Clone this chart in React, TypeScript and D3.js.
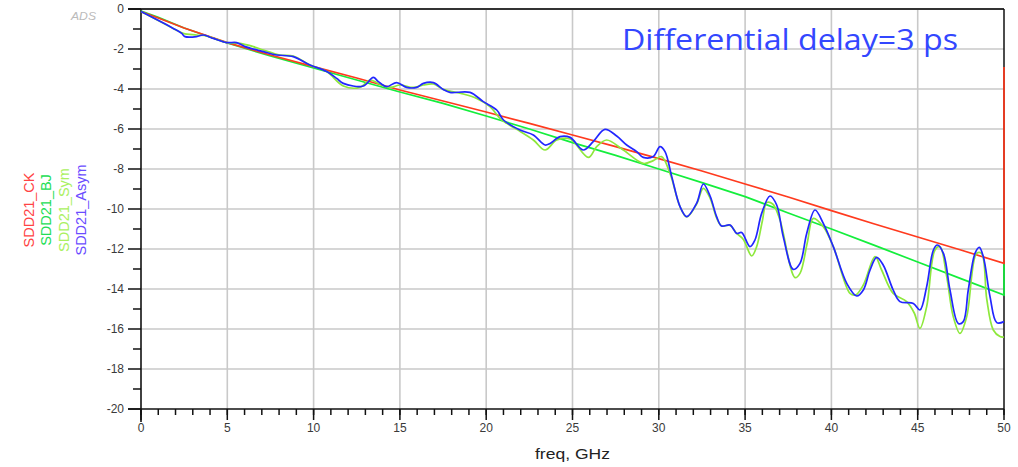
import React from "react";
import * as d3 from "d3";

const xTicksMajor = [0, 5, 10, 15, 20, 25, 30, 35, 40, 45, 50];
const yTicksMajor = [0, -2, -4, -6, -8, -10, -12, -14, -16, -18, -20];
const xTicksMinor = d3.range(0, 51, 1);
const yTicksMinor = d3.range(-1, -20, -2);

const seriesNames = ["SDD21_CK", "SDD21_BJ", "SDD21_Sym", "SDD21_Asym"];

const ckData: [number, number][] = [
  [0, -0.13], [1, -0.45], [2.5, -0.95], [5, -1.68], [7.5, -2.3], [10, -2.88],
  [12.5, -3.45], [15, -4.05], [17.5, -4.6], [20, -5.15], [22.5, -5.72], [25, -6.3],
  [27.5, -6.88], [30, -7.48], [32.5, -8.1], [35, -8.75], [37.5, -9.4], [40, -10.08],
  [42.5, -10.75], [45, -11.4], [47.5, -12.05], [50, -12.72], [50, -2.9],
];

const bjData: [number, number][] = [
  [0, -0.1], [1, -0.42], [2.5, -0.95], [5, -1.7], [7.5, -2.35], [10, -2.95],
  [12.5, -3.55], [15, -4.15], [17.5, -4.72], [20, -5.35], [22.5, -6.0], [25, -6.68],
  [27.5, -7.32], [30, -8.0], [32.5, -8.68], [35, -9.38], [37.5, -10.2], [40, -11.0],
  [42.5, -11.82], [45, -12.65], [47.5, -13.48], [50, -14.3], [50, -12.72],
];

const symData: [number, number][] = [
  [0, -0.13], [1.87, -0.97], [2.45, -1.22], [3.22, -1.3], [3.8, -1.35], [4.96, -1.68],
  [5.74, -1.72], [6.51, -1.88], [7.09, -2.05], [8.05, -2.3], [8.82, -2.35], [9.79, -2.8],
  [10.76, -3.13], [11.72, -3.85], [12.69, -3.92], [13.27, -3.55], [13.75, -3.72],
  [14.43, -3.92], [15.01, -3.8], [15.78, -3.92], [16.36, -3.8], [16.94, -3.75],
  [17.51, -4.02], [18.68, -4.25], [19.45, -4.47], [20.22, -4.88], [20.8, -5.47],
  [21.19, -5.72], [21.77, -6.02], [22.73, -6.55], [23.41, -7.05], [24.09, -6.55],
  [24.86, -6.5], [25.92, -7.42], [26.4, -6.88], [26.98, -6.55], [27.94, -7.05],
  [29.1, -7.72], [29.68, -7.58], [30.16, -7.38], [30.65, -8.22], [31.23, -9.88],
  [31.62, -10.4], [32.19, -9.75], [32.58, -8.97], [32.97, -9.45], [33.35, -10.45],
  [33.64, -10.85], [34.13, -10.82], [34.51, -11.22], [34.9, -11.52], [35.38, -12.35],
  [35.67, -11.88], [36.0, -10.6], [36.25, -9.68], [36.6, -9.75], [37.02, -10.55],
  [37.89, -13.43], [38.18, -13.22], [38.6, -11.7], [38.95, -10.47], [39.53, -10.88],
  [40.11, -11.88], [41.08, -14.22], [41.4, -14.3], [41.85, -13.8], [42.53, -12.38],
  [42.91, -13.05], [43.58, -14.22], [44.36, -14.63], [44.8, -15.2], [45.13, -15.97],
  [45.52, -14.88], [46.0, -12.05], [46.29, -11.88], [46.68, -13.38], [47.06, -15.38],
  [47.45, -16.22], [47.84, -15.38], [48.41, -12.22], [48.7, -12.22], [49.0, -14.5],
  [49.38, -16.05], [49.77, -16.38], [50, -16.4],
];

const asymData: [number, number][] = [
  [0, -0.13], [1.87, -0.97], [2.36, -1.22], [2.55, -1.38], [3.22, -1.38], [3.61, -1.3],
  [4.19, -1.47], [4.96, -1.68], [5.54, -1.68], [6.03, -1.88], [7.09, -2.13], [7.86, -2.3],
  [8.82, -2.38], [9.79, -2.8], [10.76, -3.13], [11.34, -3.47], [11.72, -3.72],
  [12.88, -3.85], [13.46, -3.42], [13.75, -3.63], [14.23, -3.88], [14.81, -3.68],
  [15.39, -3.92], [15.97, -3.92], [16.36, -3.72], [16.94, -3.68], [17.51, -4.02],
  [17.9, -4.17], [19.06, -4.17], [19.83, -4.63], [20.61, -5.05], [21.0, -5.55],
  [21.96, -6.05], [22.73, -6.3], [23.41, -6.8], [23.7, -6.72], [24.28, -6.38],
  [24.86, -6.42], [25.63, -7.05], [26.2, -6.63], [26.88, -6.02], [27.56, -6.35],
  [28.14, -6.8], [28.72, -7.13], [29.1, -7.42], [29.68, -7.38], [30.07, -6.88],
  [30.36, -7.13], [30.75, -8.38], [31.23, -9.88], [31.62, -10.38], [32.19, -9.72],
  [32.58, -8.75], [32.97, -9.35], [33.35, -10.38], [33.64, -10.85], [34.13, -10.8],
  [34.51, -11.22], [34.8, -11.18], [35.28, -11.88], [35.57, -11.55], [35.96, -10.22],
  [36.44, -9.35], [36.83, -9.8], [37.21, -11.38], [37.79, -13.02], [38.18, -12.72],
  [38.57, -11.22], [39.05, -10.05], [39.53, -10.72], [40.11, -11.88], [40.89, -13.72],
  [41.47, -14.35], [41.85, -14.05], [42.24, -13.05], [42.62, -12.42], [43.0, -12.8],
  [43.58, -14.05], [43.97, -14.63], [44.75, -14.72], [45.13, -15.05], [45.52, -13.88],
  [45.91, -12.05], [46.14, -11.8], [46.49, -12.22], [46.87, -14.05], [47.35, -15.72],
  [47.64, -15.63], [47.93, -14.05], [48.32, -12.22], [48.57, -11.92], [48.8, -12.38],
  [49.19, -14.38], [49.58, -15.68], [50, -15.63],
];

const W = 1018;
const H = 467;

export default function App() {
  const x = d3.scaleLinear().domain([0, 50]).range([141, 1004]);
  const y = d3.scaleLinear().domain([0, -20]).range([9, 409]);

  const straight = d3
    .line<[number, number]>()
    .x((d) => x(d[0]))
    .y((d) => y(d[1]));
  const smooth = d3
    .line<[number, number]>()
    .x((d) => x(d[0]))
    .y((d) => y(d[1]))
    .curve(d3.curveCatmullRom.alpha(0.5));

  const font = "'Liberation Sans', Arial, sans-serif";
  const gridColor = "#c9c9c9";
  const axisColor = "#111";

  const legendColors = ["#ff4444", "#22dd55", "#aaf060", "#6a4cff"];
  const legendX = [33.5, 51, 68.5, 86];

  return (
    <svg
      width={W}
      height={H}
      style={{ position: "absolute", left: 0, top: 0, background: "#fff" }}
    >
      {/* grid */}
      {xTicksMajor
        .filter((t) => t > 0 && t < 50)
        .map((t) => (
          <line key={"gx" + t} x1={x(t)} x2={x(t)} y1={y(0)} y2={y(-20)} stroke={gridColor} strokeWidth={1.6} />
        ))}
      {yTicksMajor
        .filter((t) => t < 0 && t > -20)
        .map((t) => (
          <line key={"gy" + t} x1={x(0)} x2={x(50)} y1={y(t)} y2={y(t)} stroke={gridColor} strokeWidth={1.6} />
        ))}

      {/* border / axes */}
      <line x1={128} x2={x(50)} y1={y(0)} y2={y(0)} stroke="#333" strokeWidth={2.2} />
      <line x1={x(50)} x2={x(50)} y1={y(0)} y2={y(-20)} stroke="#111" strokeWidth={1.5} />
      <line x1={128} x2={x(50)} y1={y(-20)} y2={y(-20)} stroke={axisColor} strokeWidth={1.5} />
      <line x1={x(0)} x2={x(0)} y1={y(0)} y2={y(-20) + 13} stroke={axisColor} strokeWidth={1.6} />

      {/* y ticks */}
      {yTicksMajor.map((t) => (
        <line key={"yt" + t} x1={128} x2={x(0)} y1={y(t)} y2={y(t)} stroke={axisColor} strokeWidth={1.5} />
      ))}
      {yTicksMinor.map((t) => (
        <line key={"ym" + t} x1={133} x2={x(0)} y1={y(t)} y2={y(t)} stroke={axisColor} strokeWidth={1.5} />
      ))}
      {yTicksMajor.map((t) => (
        <text key={"yl" + t} x={124} y={y(t) + 4.3} textAnchor="end" fontFamily={font} fontSize={12} fill="#3a3a3a">
          {t}
        </text>
      ))}

      {/* x ticks */}
      {xTicksMinor.map((t) => (
        <line key={"xm" + t} x1={x(t)} x2={x(t)} y1={y(-20)} y2={y(-20) + 6} stroke={axisColor} strokeWidth={1.5} />
      ))}
      {xTicksMajor.map((t) => (
        <line key={"xt" + t} x1={x(t)} x2={x(t)} y1={y(-20)} y2={y(-20) + 11} stroke={axisColor} strokeWidth={1.5} />
      ))}
      {xTicksMajor.map((t) => (
        <text key={"xl" + t} x={x(t)} y={432} textAnchor="middle" fontFamily={font} fontSize={12} fill="#3a3a3a">
          {t}
        </text>
      ))}

      {/* series */}
      <path d={straight(bjData) || ""} fill="none" stroke="#14ee3c" strokeWidth={1.7} />
      <path d={straight(ckData) || ""} fill="none" stroke="#ff3a1e" strokeWidth={1.7} />
      <path d={smooth(symData) || ""} fill="none" stroke="#8ee83c" strokeWidth={1.7} />
      <path d={smooth(asymData) || ""} fill="none" stroke="#2226ff" strokeWidth={1.7} />

      {/* legend (rotated) */}
      {seriesNames.map((n, i) => (
        <text
          key={n}
          transform={`translate(${legendX[i]},210) rotate(-90)`}
          textAnchor="middle"
          fontFamily={font}
          fontSize={14.5}
          fill={legendColors[i]}
        >
          {n}
        </text>
      ))}

      {/* labels */}
      <text x={535} y={459} fontFamily={font} fontSize={15} fill="#222" textLength={75} lengthAdjust="spacingAndGlyphs">
        freq, GHz
      </text>
      <text x={71} y={20} fontFamily={font} fontSize={10} fontStyle="italic" fill="#bbbbbb" textLength={25} lengthAdjust="spacingAndGlyphs">
        ADS
      </text>
      <text
        x={622}
        y={50}
        fontFamily="'Open Sans', 'Noto Sans', sans-serif"
        fontSize={30}
        fill="#3347ff"
        textLength={336}
        lengthAdjust="spacingAndGlyphs"
      >
        Differential delay=3 ps
      </text>
    </svg>
  );
}
